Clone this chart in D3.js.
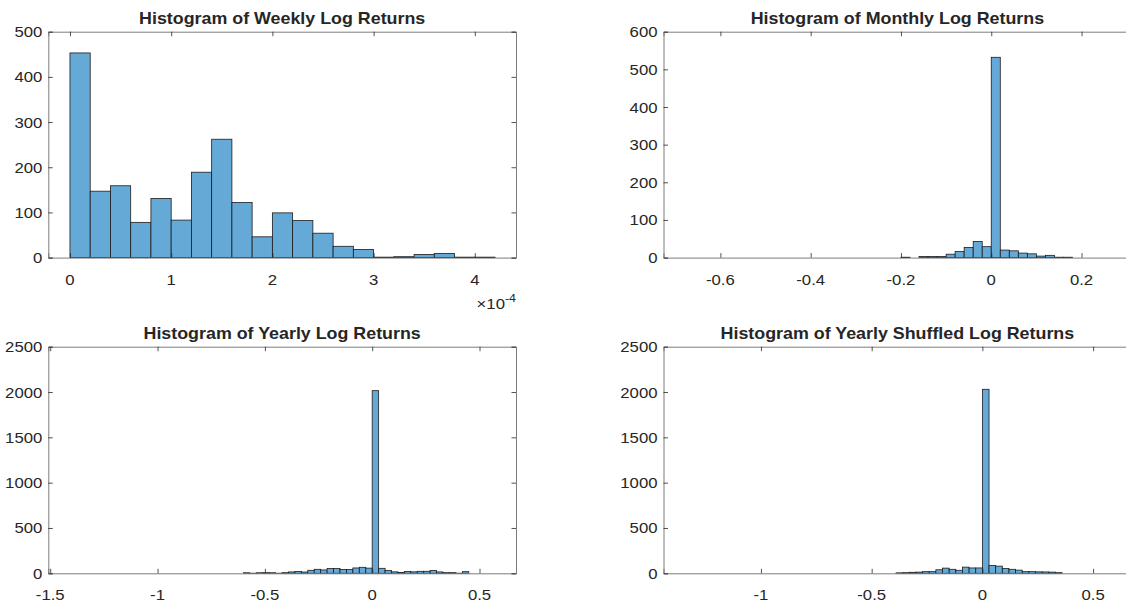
<!DOCTYPE html>
<html>
<head>
<meta charset="utf-8">
<script src="https://cdn.jsdelivr.net/npm/d3@7/dist/d3.min.js"></script>
<style>
  html, body { margin: 0; padding: 0; background: #fff; }
  svg { display: block; }
</style>
</head>
<body>
<svg id="chart" width="1126" height="603"></svg>
<script>
// ---- Histogram data (counts per bin) ----
const weeklyTitle = "Histogram of Weekly Log Returns";
const weeklyBinStart = 0;          // first bin edge
const weeklyBinWidth = 0.2e-4;
const weeklyCounts = [453, 147, 159, 78, 131, 83, 189, 262, 122, 46, 99, 82, 54, 25, 18, 1, 2, 7, 9, 1, 1];
const weeklyXLim = [-0.214e-4, 4.407e-4];
const weeklyXTicks = [0, 1e-4, 2e-4, 3e-4, 4e-4];
const weeklyXTickLabels = ["0", "1", "2", "3", "4"];
const weeklyYTicks = [0, 100, 200, 300, 400, 500];

const monthlyTitle = "Histogram of Monthly Log Returns";
const monthlyBinStart = -0.20;
const monthlyBinWidth = 0.02;
const monthlyCounts = [1, 0, 3, 3, 3, 9, 16, 27, 43, 29, 532, 20, 18, 12, 10, 4, 6, 1, 1];
const monthlyXLim = [-0.726, 0.31];
const monthlyXTicks = [-0.6, -0.4, -0.2, 0, 0.2];
const monthlyXTickLabels = ["-0.6", "-0.4", "-0.2", "0", "0.2"];
const monthlyYTicks = [0, 100, 200, 300, 400, 500, 600];

const yearlyTitle = "Histogram of Yearly Log Returns";
const yearlyBinStart = -0.60;
const yearlyBinWidth = 0.03;
const yearlyCounts = [6, 1, 6, 7, 6, 1, 7, 15, 20, 14, 33, 44, 37, 52, 52, 42, 42, 59, 66, 57,
                      2015, 55, 31, 16, 9, 20, 16, 22, 22, 31, 15, 7, 7, 1, 18];
const yearlyXLim = [-1.509, 0.670];
const yearlyXTicks = [-1.5, -1, -0.5, 0, 0.5];
const yearlyXTickLabels = ["-1.5", "-1", "-0.5", "0", "0.5"];
const yearlyYTicks = [0, 500, 1000, 1500, 2000, 2500];

const shuffledTitle = "Histogram of Yearly Shuffled Log Returns";
const shuffledBinStart = -0.39;
const shuffledBinWidth = 0.03;
const shuffledCounts = [5, 7, 11, 13, 18, 18, 39, 57, 44, 33, 68, 59, 59,
                        2030, 86, 79, 53, 44, 35, 18, 18, 16, 15, 13, 7];
const shuffledXLim = [-1.44, 0.672];
const shuffledXTicks = [-1, -0.5, 0, 0.5];
const shuffledXTickLabels = ["-1", "-0.5", "0", "0.5"];
const shuffledYTicks = [0, 500, 1000, 1500, 2000, 2500];

// ---- Layout ----
const colX = [[48.3, 516], [663.5, 1131.2]];
const rowY = [[31.7, 257.6], [346.7, 573.3]];
const FONT = "'Liberation Sans', Arial, Helvetica, sans-serif";
const TEXT_COLOR = "#262626";
const AXIS_COLOR = "#7d7d7d";
const TICK_LEN = 4.5;
const BAR_FILL = "#65a9d7";
const BAR_EDGE = "#1c1c1c";
const TICK_FONT = 15.5, TICK_SX = 1.08;
const TITLE_FONT = 17, TITLE_SX = 1.05;

const svg = d3.select("#chart");

function stretchedText(parent, x, y, str, anchor, size, sx, weight) {
  return parent.append("g")
    .attr("transform", `translate(${x},${y}) scale(${sx},1)`)
    .append("text")
    .attr("x", 0).attr("y", 0)
    .attr("text-anchor", anchor)
    .attr("font-family", FONT)
    .attr("font-size", size)
    .attr("font-weight", weight || "normal")
    .attr("fill", TEXT_COLOR)
    .text(str);
}

function drawPanel(cfg) {
  const [x0, x1] = colX[cfg.col];
  const [y0, y1] = rowY[cfg.row];
  const g = svg.append("g");

  const x = d3.scaleLinear().domain(cfg.xLim).range([x0, x1]);
  const y = d3.scaleLinear().domain([0, cfg.yTicks[cfg.yTicks.length - 1]]).range([y1, y0]);

  // bars
  const bins = cfg.counts.map((c, i) => ({
    lo: cfg.binStart + i * cfg.binWidth,
    hi: cfg.binStart + (i + 1) * cfg.binWidth,
    count: c
  })).filter(d => d.count > 0);

  g.append("g").selectAll("rect").data(bins).join("rect")
    .attr("x", d => x(d.lo))
    .attr("width", d => x(d.hi) - x(d.lo))
    .attr("y", d => y(d.count))
    .attr("height", d => y(0) - y(d.count))
    .attr("fill", BAR_FILL)
    .attr("stroke", BAR_EDGE)
    .attr("stroke-width", 0.8);

  // box axes with inward ticks; labels drawn separately
  const bottomAxis = d3.axisBottom(x).tickValues(cfg.xTicks).tickSize(-TICK_LEN).tickFormat("");
  const topAxis = d3.axisTop(x).tickValues(cfg.xTicks).tickSize(-TICK_LEN).tickFormat("");
  const leftAxis = d3.axisLeft(y).tickValues(cfg.yTicks).tickSize(-TICK_LEN).tickFormat("");
  const rightAxis = d3.axisRight(y).tickValues(cfg.yTicks).tickSize(-TICK_LEN).tickFormat("");

  const axes = [
    [bottomAxis, `translate(0,${y1})`],
    [topAxis, `translate(0,${y0})`],
    [leftAxis, `translate(${x0},0)`],
    [rightAxis, `translate(${x1},0)`]
  ];
  axes.forEach(([ax, tr]) => {
    const a = g.append("g").attr("transform", tr).call(ax);
    a.select(".domain").attr("stroke", AXIS_COLOR).attr("stroke-width", 1);
    a.selectAll(".tick line").attr("stroke", TEXT_COLOR).attr("stroke-width", 0.8);
  });

  // tick labels
  cfg.xTicks.forEach((v, i) => {
    stretchedText(g, x(v), y1 + 27, cfg.xTickLabels[i], "middle", TICK_FONT, TICK_SX);
  });
  cfg.yTicks.forEach(v => {
    stretchedText(g, x0 - 6, y(v) + 5.5, String(v), "end", TICK_FONT, TICK_SX);
  });

  // title
  stretchedText(g, (x0 + x1) / 2, y0 - 7.5, cfg.title, "middle", TITLE_FONT, TITLE_SX, "bold");

  // exponent marker
  if (cfg.exponent) {
    const grp = g.append("g").attr("transform", `translate(${x1},${y1 + 51}) scale(${TICK_SX},1)`);
    const t = grp.append("text")
      .attr("text-anchor", "end")
      .attr("font-family", FONT)
      .attr("font-size", TICK_FONT)
      .attr("fill", TEXT_COLOR);
    t.append("tspan").text("\u00d7" + "10");
    t.append("tspan").attr("font-size", 11.5).attr("dy", -7).text(cfg.exponent);
  }
}

drawPanel({ col: 0, row: 0, title: weeklyTitle, binStart: weeklyBinStart, binWidth: weeklyBinWidth,
  counts: weeklyCounts, xLim: weeklyXLim, xTicks: weeklyXTicks, xTickLabels: weeklyXTickLabels,
  yTicks: weeklyYTicks, exponent: "-4" });
drawPanel({ col: 1, row: 0, title: monthlyTitle, binStart: monthlyBinStart, binWidth: monthlyBinWidth,
  counts: monthlyCounts, xLim: monthlyXLim, xTicks: monthlyXTicks, xTickLabels: monthlyXTickLabels,
  yTicks: monthlyYTicks });
drawPanel({ col: 0, row: 1, title: yearlyTitle, binStart: yearlyBinStart, binWidth: yearlyBinWidth,
  counts: yearlyCounts, xLim: yearlyXLim, xTicks: yearlyXTicks, xTickLabels: yearlyXTickLabels,
  yTicks: yearlyYTicks });
drawPanel({ col: 1, row: 1, title: shuffledTitle, binStart: shuffledBinStart, binWidth: shuffledBinWidth,
  counts: shuffledCounts, xLim: shuffledXLim, xTicks: shuffledXTicks, xTickLabels: shuffledXTickLabels,
  yTicks: shuffledYTicks });
</script>
</body>
</html>
